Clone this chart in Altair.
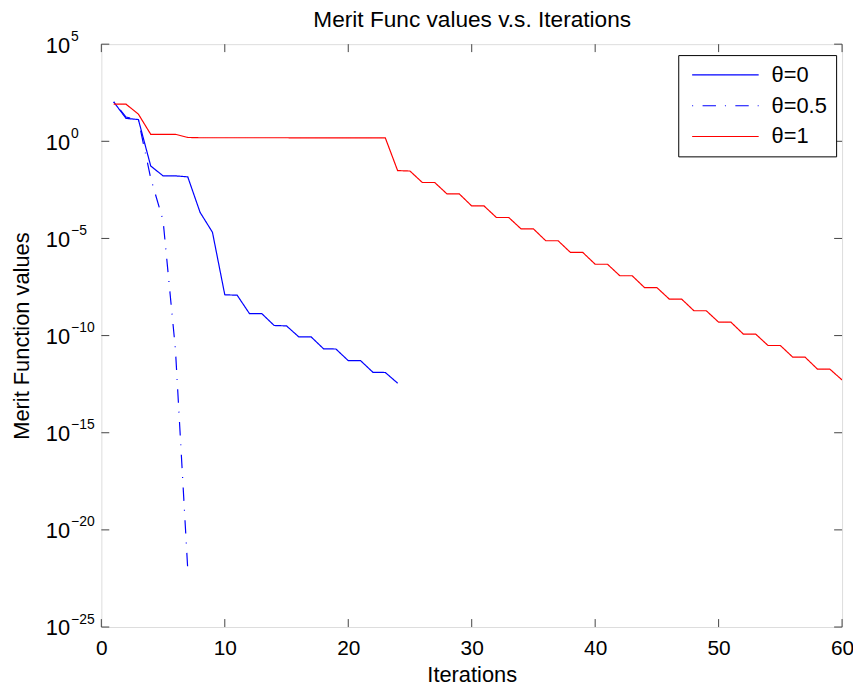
import altair as alt
import pandas as pd

# ---------------- data ----------------
series_names = ["θ=0", "θ=0.5", "θ=1"]

iters_0 = list(range(1, 25))
merit_0 = [1.07e2, 1.51e1, 1.32e1, 5.37e-2, 1.66e-2, 1.66e-2, 1.48e-2, 2.19e-4,
           2.09e-5, 1.26e-8, 1.20e-8, 1.35e-9, 1.35e-9, 3.31e-10, 3.16e-10,
           8.5e-11, 8.5e-11, 2.09e-11, 2.04e-11, 5.13e-12, 5.13e-12, 1.29e-12,
           1.26e-12, 3.55e-13]

iters_05 = list(range(1, 8))
merit_05 = [1.07e2, 1.78e1, 1.26e1, 1.26e-2, 8.5e-5, 2.0e-11, 9.1e-23]

iters_1 = list(range(1, 61))
merit_1 = [8.13e1, 8.13e1, 2.51e1, 2.29, 2.29, 2.29, 1.58,
           1.52, 1.52, 1.52, 1.52, 1.52, 1.52, 1.52, 1.52,
           1.51, 1.51, 1.51, 1.51, 1.51, 1.51, 1.51, 1.51,
           3.1e-2, 2.95e-2, 7.6e-3, 7.6e-3, 1.95e-3, 1.95e-3, 4.7e-4, 4.7e-4,
           1.2e-4, 1.2e-4, 3.1e-5, 3.1e-5, 7.6e-6, 7.6e-6, 1.9e-6, 1.9e-6,
           4.7e-7, 4.7e-7, 1.2e-7, 1.2e-7, 2.95e-8, 2.95e-8, 7.6e-9, 7.6e-9,
           1.9e-9, 1.9e-9, 4.9e-10, 4.9e-10, 1.2e-10, 1.2e-10, 3.1e-11, 3.1e-11,
           7.8e-12, 7.8e-12, 1.9e-12, 1.9e-12, 5.2e-13]

x_ticks = [0, 10, 20, 30, 40, 50, 60]
y_ticks = [1e5, 1e0, 1e-5, 1e-10, 1e-15, 1e-20, 1e-25]
title_text = "Merit Func values v.s. Iterations"

# ---------------- build tables ----------------
rows = []
for name, xs, ys in [(series_names[0], iters_0, merit_0),
                     (series_names[1], iters_05, merit_05),
                     (series_names[2], iters_1, merit_1)]:
    for xv, yv in zip(xs, ys):
        rows.append({"series": name, "iter": xv, "merit": yv})
df = pd.DataFrame(rows)
xt_df = pd.DataFrame({"v": x_ticks})
yt_df = pd.DataFrame({"v": y_ticks})

W, H = 746, 587
FONT = "Liberation Sans"
TICK_COLOR = "#444444"

xscale = alt.Scale(domain=[0, 60], nice=False, zero=False)
yscale = alt.Scale(type="log", domain=[1e-25, 1e5], nice=False)

legend = alt.Legend(
    title=None, orient="none", legendX=581, legendY=11,
    symbolType="stroke", symbolSize=4489, symbolStrokeWidth=1.2,
    clipHeight=22, rowPadding=9, padding=9, symbolOffset=4, labelOffset=12,
    labelFontSize=22, labelFont=FONT, labelColor="black", labelLimit=0,
    strokeColor="black", fillColor="white", cornerRadius=0,
)

lines = alt.Chart(df).mark_line(strokeWidth=1.2, clip=True).encode(
    x=alt.X("iter:Q", scale=xscale, axis=alt.Axis(
        orient="bottom", values=x_ticks, title="Iterations", ticks=False,
        tickSize=0, domain=False, grid=False, labelFlush=False,
        labelFontSize=21, labelFont=FONT,
        labelColor="black", labelBaseline="alphabetic", labelPadding=28,
        titleFontSize=22, titleFont=FONT, titleFontWeight="normal",
        titleColor="black", titleY=54.5, titleBaseline="alphabetic")),
    y=alt.Y("merit:Q", scale=yscale, axis=alt.Axis(
        orient="left", values=y_ticks, labelExpr="'10'",
        title="Merit Function values", ticks=False, tickSize=0,
        domain=False, grid=False, labelFlush=False, labelFontSize=22,
        labelFont=FONT, labelColor="black", labelAlign="right",
        labelBaseline="middle", labelOffset=1,
        labelPadding=32, titleFontSize=22, titleFont=FONT,
        titleFontWeight="normal", titleColor="black", titleX=-73,
        titleBaseline="alphabetic")),
    color=alt.Color("series:N", scale=alt.Scale(
        domain=series_names, range=["#0000ff", "#0000ff", "#ff0000"]),
        legend=legend),
    strokeDash=alt.StrokeDash("series:N", scale=alt.Scale(
        domain=series_names, range=[[1, 0], [1, 9.5, 13.5, 9], [1, 0]]),
        legend=legend),
    order="iter:Q",
)

ytick_left = alt.Chart(yt_df).mark_rule(color=TICK_COLOR, strokeWidth=1).encode(
    y=alt.Y("v:Q", scale=yscale, axis=alt.Axis(
        orient="left", values=y_ticks,
        labelExpr="format(round(log(datum.value)/LN10), 'd')",
        title=None, ticks=False, tickSize=0, domain=False, grid=False,
        labelFlush=False, labelFontSize=14, labelFont=FONT,
        labelColor="black", labelAlign="left", labelBaseline="alphabetic",
        labelPadding=31, labelOffset=-4)),
    x=alt.value(0), x2=alt.value(8),
)
ytick_right = alt.Chart(yt_df).mark_rule(color=TICK_COLOR, strokeWidth=1).encode(
    y=alt.Y("v:Q", scale=yscale, axis=None),
    x=alt.value(W - 8), x2=alt.value(W),
)
xtick_bottom = alt.Chart(xt_df).mark_rule(color=TICK_COLOR, strokeWidth=1).encode(
    x=alt.X("v:Q", scale=xscale, axis=None),
    y=alt.value(H - 8), y2=alt.value(H),
)
# top ticks; its (label-less) top axis carries the chart title text
xtick_top = alt.Chart(xt_df).mark_rule(color=TICK_COLOR, strokeWidth=1).encode(
    x=alt.X("v:Q", scale=xscale, axis=alt.Axis(
        orient="top", values=x_ticks, labels=False, ticks=False, tickSize=0,
        domain=False, grid=False, title=title_text, titleFontSize=22.8,
        titleFont=FONT, titleFontWeight="normal", titleColor="black",
        titleBaseline="alphabetic", titleY=-18)),
    y=alt.value(0), y2=alt.value(8),
)

chart = alt.layer(
    lines, ytick_left, ytick_right, xtick_bottom, xtick_top
).resolve_scale(
    y="independent"
).resolve_axis(
    x="independent"
).properties(
    width=W, height=H,
    autosize=alt.AutoSizeParams(type="none"),
    padding={"left": 94, "top": 34, "right": 11, "bottom": 60},
).configure_view(
    stroke="black", strokeWidth=1
).configure(background="white")

chart.save("out.html", embed_options={"renderer": "svg", "actions": False})
